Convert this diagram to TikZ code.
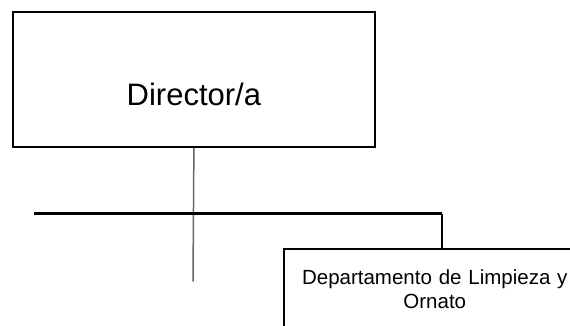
\documentclass[tikz,border=0pt]{standalone}
\usepackage{fontspec}
\setmainfont{Liberation Sans}
\usetikzlibrary{positioning}

\begin{document}
\begin{tikzpicture}[x=1pt,y=-1pt]
      \useasboundingbox (0,0) rectangle (570,326);
      \begin{scope}[every node/.style={rectangle,draw=black,line width=1.8pt}]
        \node (dir) [anchor=north west,minimum width=362pt,minimum height=135pt,
          font=\fontsize{31}{36}\selectfont,text height=52pt,text depth=0pt]
          at (12,11) {Director/a};
        \node (dep) [anchor=north west,line width=1.6pt,align=center,text width=280pt,
          inner xsep=11pt,inner ysep=21pt,font=\fontsize{20.5}{23.6}\selectfont]
          at (283,248.3) {Departamento de Limpieza y\\Ornato};
      \end{scope}
      \coordinate (trunk) at (193,281.7);
      \coordinate (busL) at (34,213.5);
      \coordinate (bend) at (442.3,213.5);
      \begin{scope}
        [every edge/.style={draw=black,line width=2.1pt}]
        \path (dir.south) edge[black!60,line width=1.5pt] (trunk);
        \path (busL) edge (bend);
        \path (bend) edge[line width=1.7pt] (bend |- dep.north);
      \end{scope}
    \end{tikzpicture}
\end{document}
